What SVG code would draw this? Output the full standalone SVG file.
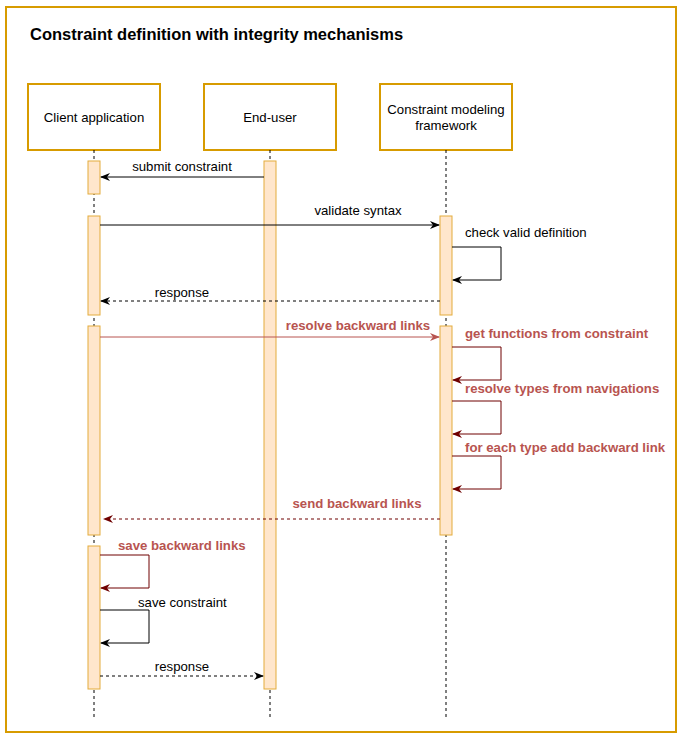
<svg xmlns="http://www.w3.org/2000/svg" width="685" height="740" viewBox="0 0 685 740">
<defs>
<style>
.frame{fill:#ffffff;stroke:#d79b00;stroke-width:2}
.head{fill:#ffffff;stroke:#d79b00;stroke-width:2}
.life{stroke:#000000;stroke-width:1;stroke-dasharray:3 3;fill:none}
.bar{fill:#ffe6cc;stroke:#e3ac3c;stroke-width:1}
.msg{stroke:#000000;stroke-width:1;fill:none}
.dash{stroke-dasharray:3 3}
.red{stroke:#b85450}
.dred{stroke:#6f0000}
.t{font-family:"Liberation Sans",Arial,sans-serif;font-size:13.2px;fill:#000000}
.tr{font-family:"Liberation Sans",Arial,sans-serif;font-size:13.2px;font-weight:bold;fill:#b85450}
.title{font-family:"Liberation Sans",Arial,sans-serif;font-size:16.5px;font-weight:bold;fill:#000000}
</style>
<marker id="ab" viewBox="0 0 10 8" refX="9" refY="4" markerWidth="10" markerHeight="8" markerUnits="userSpaceOnUse" orient="auto"><path d="M0,0 L10,4 L0,8 L3,4 z" fill="#000000"/></marker>
<marker id="ar" viewBox="0 0 10 8" refX="9" refY="4" markerWidth="10" markerHeight="8" markerUnits="userSpaceOnUse" orient="auto"><path d="M0,0 L10,4 L0,8 L3,4 z" fill="#b85450"/></marker>
<marker id="ad" viewBox="0 0 10 8" refX="9" refY="4" markerWidth="10" markerHeight="8" markerUnits="userSpaceOnUse" orient="auto"><path d="M0,0 L10,4 L0,8 L3,4 z" fill="#6f0000"/></marker>
</defs>
<rect x="0" y="0" width="685" height="740" fill="#ffffff"/>
<rect class="frame" x="6" y="7" width="670" height="725"/>
<text class="title" x="30" y="40">Constraint definition with integrity mechanisms</text>

<g id="client">
<rect class="head" x="28" y="84" width="132" height="66"/>
<text class="t" x="94" y="122" text-anchor="middle">Client application</text>
<line class="life" x1="94" y1="150" x2="94" y2="717"/>
<rect class="bar" x="88" y="161" width="12" height="33"/>
<rect class="bar" x="88" y="216" width="12" height="99"/>
<rect class="bar" x="88" y="326" width="12" height="209"/>
<rect class="bar" x="88" y="546" width="12" height="143"/>
</g>

<g id="enduser">
<rect class="head" x="204" y="84" width="132" height="66"/>
<text class="t" x="270" y="122" text-anchor="middle">End-user</text>
<line class="life" x1="270" y1="150" x2="270" y2="717"/>
<rect class="bar" x="264" y="161" width="12" height="528"/>
</g>

<g id="framework">
<rect class="head" x="380" y="84" width="132" height="66"/>
<text class="t" x="446" y="114" text-anchor="middle">Constraint modeling</text>
<text class="t" x="446" y="130" text-anchor="middle">framework</text>
<line class="life" x1="446" y1="150" x2="446" y2="717"/>
<rect class="bar" x="440" y="216" width="12" height="99"/>
<rect class="bar" x="440" y="326" width="12" height="209"/>
</g>

<g id="connectors">
<line class="msg" x1="264" y1="177" x2="101" y2="177" marker-end="url(#ab)"/>
<text class="t" x="182" y="171" text-anchor="middle">submit constraint</text>

<line class="msg" x1="100" y1="225" x2="439" y2="225" marker-end="url(#ab)"/>
<text class="t" x="358" y="215" text-anchor="middle">validate syntax</text>

<polyline class="msg" points="452,247 501,247 501,280 453,280" marker-end="url(#ab)"/>
<text class="t" x="465" y="237">check valid definition</text>

<line class="msg dash" x1="440" y1="301" x2="101" y2="301" marker-end="url(#ab)"/>
<text class="t" x="182" y="297" text-anchor="middle">response</text>

<line class="msg red" x1="100" y1="337" x2="439" y2="337" marker-end="url(#ar)"/>
<text class="tr" x="358" y="330" text-anchor="middle">resolve backward links</text>

<polyline class="msg dred" points="452,347 501,347 501,380 453,380" marker-end="url(#ad)"/>
<text class="tr" x="465" y="338">get functions from constraint</text>

<polyline class="msg dred" points="452,401 501,401 501,434 453,434" marker-end="url(#ad)"/>
<text class="tr" x="465" y="393">resolve types from navigations</text>

<polyline class="msg dred" points="452,456 501,456 501,489 453,489" marker-end="url(#ad)"/>
<text class="tr" x="465" y="452">for each type add backward link</text>

<line class="msg dash dred" x1="440" y1="519" x2="104" y2="519" marker-end="url(#ad)"/>
<text class="tr" x="357" y="508" text-anchor="middle">send backward links</text>

<polyline class="msg dred" points="100,555 149,555 149,588 101,588" marker-end="url(#ad)"/>
<text class="tr" x="118" y="550">save backward links</text>

<polyline class="msg" points="100,610 149,610 149,643 101,643" marker-end="url(#ab)"/>
<text class="t" x="138" y="607">save constraint</text>

<line class="msg dash" x1="100" y1="676" x2="263" y2="676" marker-end="url(#ab)"/>
<text class="t" x="182" y="671" text-anchor="middle">response</text>
</g>
</svg>
